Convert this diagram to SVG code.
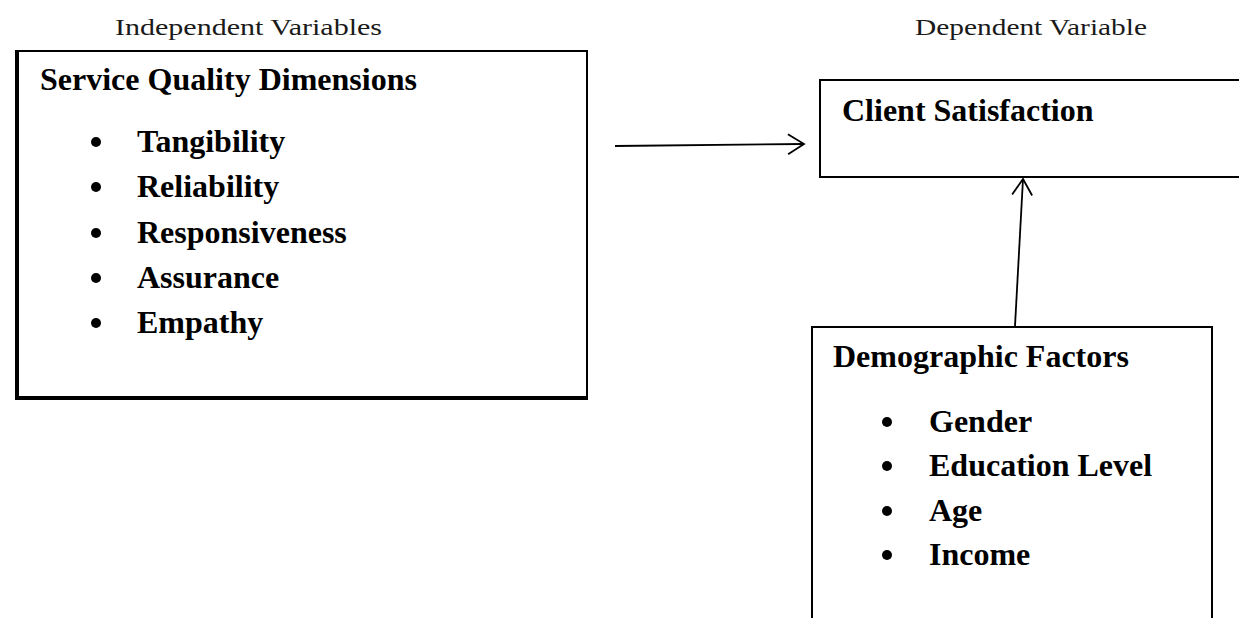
<svg xmlns="http://www.w3.org/2000/svg" width="1239" height="618" viewBox="0 0 1239 618">
<style>
.cap{font-family:"Liberation Serif",serif;font-size:24px;fill:#1a1a1a}
.title{font-family:"Liberation Serif",serif;font-weight:bold;font-size:32px;fill:#000}
.item{font-family:"Liberation Serif",serif;font-weight:bold;font-size:32px;fill:#000}
.box{fill:#fff;stroke:#000;stroke-width:2}
.conn{stroke:#000;stroke-width:1.8;fill:none}
</style>
<defs>
<marker id="open" markerWidth="20" markerHeight="24" refX="17" refY="11" orient="auto" markerUnits="userSpaceOnUse">
<path d="M1,1 L17,11 L1,21" fill="none" stroke="#000" stroke-width="1.8"/>
</marker>
</defs>
<rect width="1239" height="618" fill="#fff"/>
<text class="cap" x="115" y="35" textLength="267" lengthAdjust="spacingAndGlyphs">Independent Variables</text>
<text class="cap" x="915" y="35" textLength="232" lengthAdjust="spacingAndGlyphs">Dependent Variable</text>
<g id="service-quality">
<rect class="box" x="17" y="51" width="570" height="347"/>
<line x1="17" y1="50" x2="17" y2="400" stroke="#000" stroke-width="4"/>
<line x1="15" y1="398" x2="588" y2="398" stroke="#000" stroke-width="4"/>
<text class="title" x="40" y="90">Service Quality Dimensions</text>
<circle cx="96" cy="142" r="5"/><text class="item" x="137" y="152">Tangibility</text>
<circle cx="96" cy="187" r="5"/><text class="item" x="137" y="197">Reliability</text>
<circle cx="96" cy="233" r="5"/><text class="item" x="137" y="243">Responsiveness</text>
<circle cx="96" cy="278" r="5"/><text class="item" x="137" y="288">Assurance</text>
<circle cx="96" cy="323" r="5"/><text class="item" x="137" y="333">Empathy</text>
</g>
<g id="client-satisfaction">
<rect class="box" x="820" y="80" width="425" height="97"/>
<text class="title" x="842" y="121">Client Satisfaction</text>
</g>
<g id="demographic-factors">
<rect class="box" x="812" y="327" width="400" height="300"/>
<text class="title" x="833" y="367">Demographic Factors</text>
<circle cx="887" cy="422" r="5"/><text class="item" x="929" y="432">Gender</text>
<circle cx="887" cy="466" r="5"/><text class="item" x="929" y="476">Education Level</text>
<circle cx="887" cy="511" r="5"/><text class="item" x="929" y="521">Age</text>
<circle cx="887" cy="555" r="5"/><text class="item" x="929" y="565">Income</text>
</g>
<g id="connectors">
<line class="conn" x1="615" y1="146" x2="804" y2="144" marker-end="url(#open)"/>
<line class="conn" x1="1015" y1="326" x2="1023" y2="179" marker-end="url(#open)"/>
</g>
</svg>
